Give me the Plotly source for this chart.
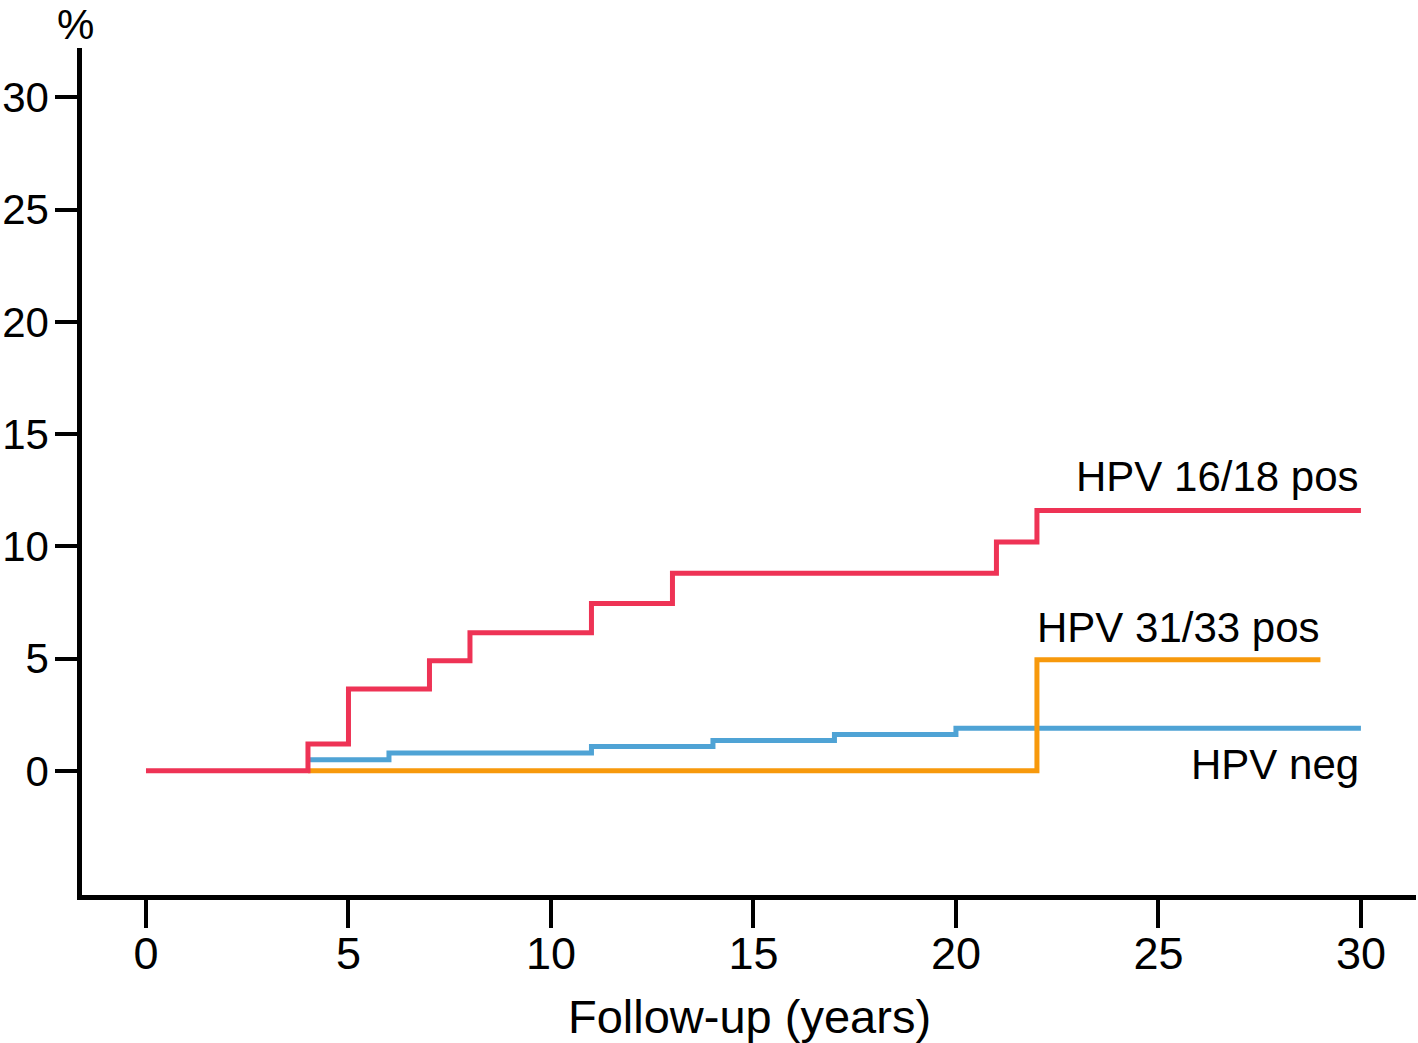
import plotly.graph_objects as go

# Data
red_x = [0, 4, 5, 7, 8, 11, 13, 21, 22, 30]
red_y = [0, 1.2, 3.65, 4.9, 6.15, 7.45, 8.8, 10.2, 11.6, 11.6]
blue_x = [4, 6, 11, 14, 17, 20, 30]
blue_y = [0.5, 0.8, 1.08, 1.35, 1.62, 1.9, 1.9]
orange_x = [4, 22, 29]
orange_y = [0, 4.95, 4.95]
x_ticks = [0, 5, 10, 15, 20, 25, 30]
y_ticks = [0, 5, 10, 15, 20, 25, 30]

FONT = "Liberation Sans, Arial, Helvetica, sans-serif"

fig = go.Figure()
fig.add_trace(go.Scatter(x=blue_x, y=blue_y, mode="lines", line=dict(color="#4FA3D5", width=5, shape="hv"), showlegend=False))
fig.add_trace(go.Scatter(x=orange_x, y=orange_y, mode="lines", line=dict(color="#F7990C", width=5, shape="hv"), showlegend=False))
fig.add_trace(go.Scatter(x=red_x, y=red_y, mode="lines", line=dict(color="#EE3355", width=5, shape="hv"), showlegend=False))

fig.update_layout(
    width=1418, height=1043,
    margin=dict(l=82, r=2, t=48, b=148),
    paper_bgcolor="white", plot_bgcolor="white",
    font=dict(family=FONT, color="black", size=44),
)
fig.update_xaxes(
    range=[-1.58, 31.36], tickvals=x_ticks, ticktext=[str(v) for v in x_ticks],
    showgrid=False, zeroline=False, showline=True, linecolor="black", linewidth=4.5,
    ticks="outside", ticklen=28, tickwidth=3.5, tickcolor="black",
    tickfont=dict(size=45, family=FONT, color="black"), automargin=False,
    ticklabelstandoff=-13,
)
fig.update_yaxes(
    range=[-5.53, 32.2], tickvals=y_ticks, ticktext=[str(v) for v in y_ticks],
    showgrid=False, zeroline=False, showline=True, linecolor="black", linewidth=4.5,
    ticks="outside", ticklen=22, tickwidth=3.5, tickcolor="black",
    tickfont=dict(size=42, family=FONT, color="black"), automargin=False,
    ticklabelstandoff=-2,
)

ann_font = dict(size=42, family=FONT, color="black")
fig.add_annotation(x=30, y=13.1, text="HPV 16/18 pos", showarrow=False, xanchor="right", yanchor="middle", font=ann_font)
fig.add_annotation(x=29.05, y=6.4, text="HPV 31/33 pos", showarrow=False, xanchor="right", yanchor="middle", font=ann_font)
fig.add_annotation(x=30, y=0.27, text="HPV neg", showarrow=False, xanchor="right", yanchor="middle", font=ann_font)
fig.add_annotation(xref="paper", yref="paper", x=-0.0052, y=1.028, text="%", showarrow=False,
                   xanchor="center", yanchor="middle", borderpad=0,
                   font=dict(size=42, family=FONT, color="black"))
fig.add_annotation(xref="paper", yref="paper", x=0.5, y=-0.1439, text="Follow-up (years)", showarrow=False,
                   xanchor="center", yanchor="middle", font=dict(size=47, family=FONT, color="black"))

fig.write_html("out.html", config={"displayModeBar": False},
               post_script="document.body.style.margin='0';document.body.style.padding='0';")
